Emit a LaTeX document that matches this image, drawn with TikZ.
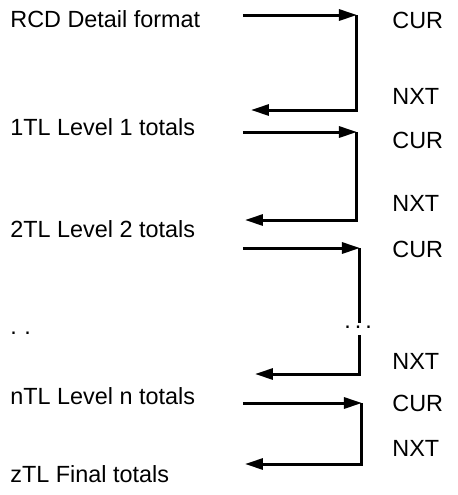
\documentclass[tikz,border=0pt]{standalone}
\usepackage{fontspec}
\setmainfont{Liberation Sans}
\usetikzlibrary{arrows.meta}

\begin{document}
\begin{tikzpicture}[x=0.5pt, y=-0.5pt,
  every node/.style={inner sep=0pt, anchor=base west, font=\fontsize{11.7}{14}\selectfont},
  flow/.style={line width=1.5pt, -{Triangle[length=9pt,width=5.5pt]}},
  link/.style={line width=1.5pt}]
\useasboundingbox (0,0) rectangle (458,495);
% record names on the left
\node (rcd) at (10,27) {RCD Detail format};
\node (l1) at (10,135) {1TL Level 1 totals};
\node (l2) at (10,237) {2TL Level 2 totals};
\node (ldots) at (10,334.5) {.\hspace{3.75pt}.};
\node (ln) at (10,404) {nTL Level n totals};
\node (lz) at (10,482) {zTL Final totals};
% pointer names on the right
\node (cur1) at (392,28) {CUR};
\node (nxt1) at (392,104) {NXT};
\node (cur2) at (392,148) {CUR};
\node (nxt2) at (392,211) {NXT};
\node (cur3) at (392,257) {CUR};
\node (nxt3) at (392,369) {NXT};
\node (cur4) at (392,411) {CUR};
\node (nxt4) at (392,456) {NXT};
% turning points of the links
\coordinate (a1) at (243,15);  \coordinate (c1) at (357,15);
\coordinate (n1) at (357,110); \coordinate (b1) at (251,110);
\coordinate (a2) at (243,132); \coordinate (c2) at (357,132);
\coordinate (n2) at (357,220); \coordinate (b2) at (245,220);
\coordinate (a3) at (243,248); \coordinate (c3) at (360,248);
\coordinate (g3) at (360,323); \coordinate (h3) at (360,335);
\coordinate (n3) at (360,374); \coordinate (b3) at (255,374);
\coordinate (a4) at (243,403); \coordinate (c4) at (362,403);
\coordinate (n4) at (362,464); \coordinate (b4) at (245,464);
\draw[flow] (a1) -- (c1);
\draw[flow] (c1) -- (n1) -- (b1);
\draw[flow] (a2) -- (c2);
\draw[flow] (c2) -- (n2) -- (b2);
\draw[flow] (a3) -- (c3);
\draw[link] (c3) -- (g3);
\node (rdots) at (344,328.5) {.\hspace{2pt}.\hspace{2pt}.};
\draw[flow] (h3) -- (n3) -- (b3);
\draw[flow] (a4) -- (c4);
\draw[flow] (c4) -- (n4) -- (b4);
\end{tikzpicture}
\end{document}
